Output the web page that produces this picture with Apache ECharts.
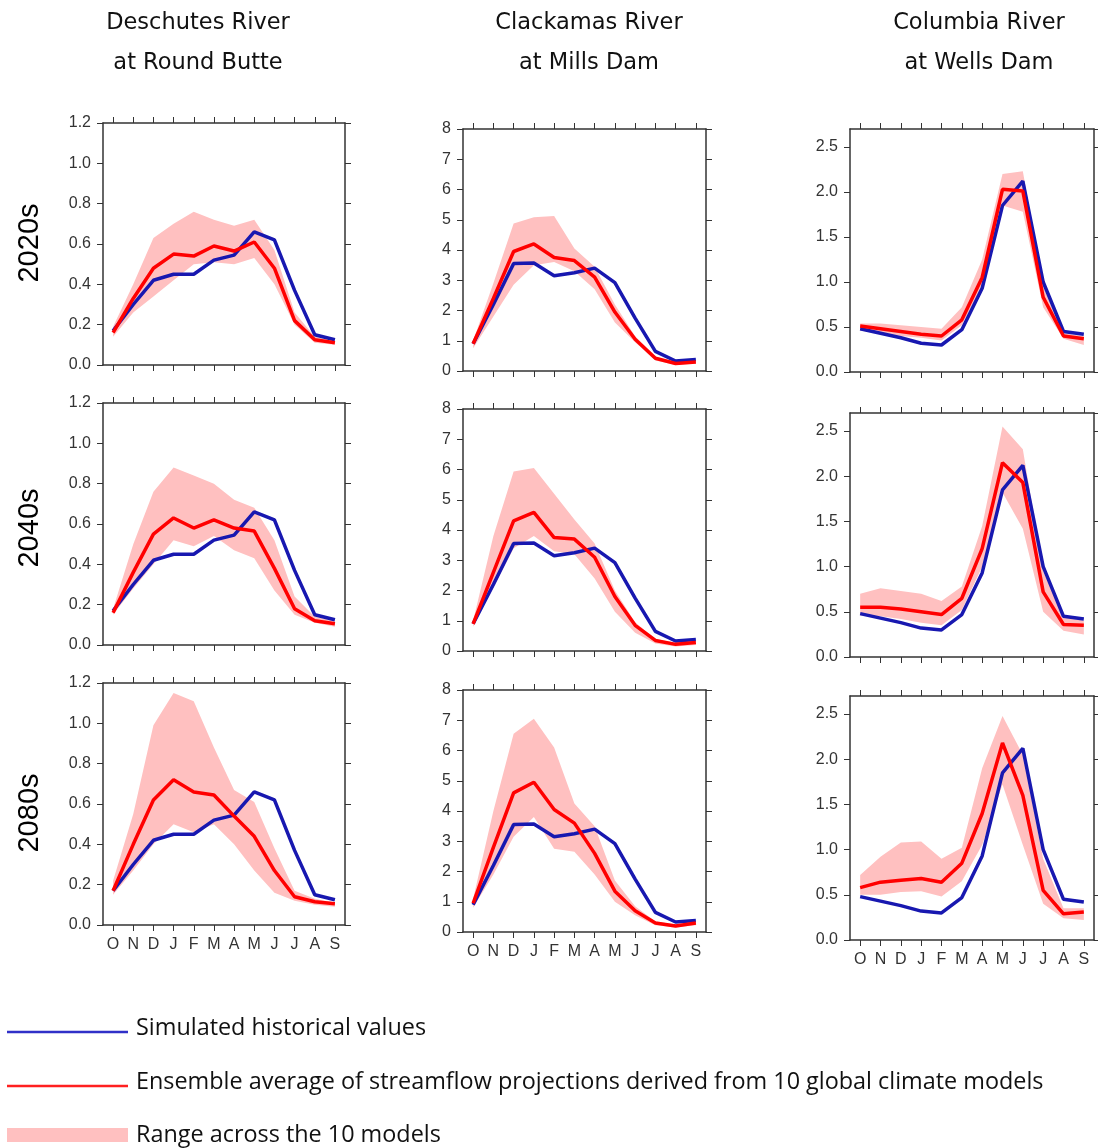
<!DOCTYPE html>
<html>
<head>
<meta charset="utf-8">
<title>Streamflow projections</title>
<script src="https://cdn.jsdelivr.net/npm/echarts@6.0.0/dist/echarts.min.js"></script>
<style>
  html, body { margin: 0; padding: 0; background: #fff; }
  #chart { width: 1098px; height: 1148px; }
</style>
</head>
<body>
<div id="chart"></div>
<script>
// months of the water year, Oct -> Sep
const months = ['O', 'N', 'D', 'J', 'F', 'M', 'A', 'M', 'J', 'J', 'A', 'S'];
const rivers = ['Deschutes River', 'Clackamas River', 'Columbia River'];
const sites = ['at Round Butte', 'at Mills Dam', 'at Wells Dam'];
const periods = ['2020s', '2040s', '2080s'];

// simulated historical values (same in every row)
const deschutesHist = [0.17, 0.30, 0.42, 0.45, 0.45, 0.52, 0.545, 0.66, 0.62, 0.37, 0.15, 0.125];
const clackamasHist = [0.9, 2.2, 3.55, 3.57, 3.15, 3.25, 3.4, 2.92, 1.75, 0.65, 0.33, 0.38];
const columbiaHist = [0.48, 0.43, 0.38, 0.32, 0.30, 0.47, 0.93, 1.85, 2.12, 1.0, 0.45, 0.42];

// Deschutes: ensemble mean, min, max
const deschutes2020Mean = [0.16, 0.33, 0.48, 0.55, 0.54, 0.59, 0.565, 0.61, 0.48, 0.22, 0.125, 0.11];
const deschutes2020Low = [0.14, 0.26, 0.34, 0.42, 0.50, 0.51, 0.50, 0.53, 0.40, 0.20, 0.11, 0.10];
const deschutes2020High = [0.19, 0.40, 0.63, 0.70, 0.76, 0.72, 0.69, 0.72, 0.57, 0.26, 0.14, 0.12];
const deschutes2040Mean = [0.16, 0.36, 0.55, 0.63, 0.58, 0.62, 0.58, 0.565, 0.38, 0.18, 0.12, 0.105];
const deschutes2040Low = [0.15, 0.28, 0.40, 0.52, 0.49, 0.54, 0.47, 0.43, 0.27, 0.15, 0.11, 0.09];
const deschutes2040High = [0.18, 0.50, 0.76, 0.88, 0.84, 0.80, 0.72, 0.68, 0.52, 0.24, 0.14, 0.12];
const deschutes2080Mean = [0.17, 0.40, 0.62, 0.72, 0.66, 0.645, 0.54, 0.44, 0.27, 0.14, 0.115, 0.105];
const deschutes2080Low = [0.15, 0.27, 0.40, 0.50, 0.46, 0.50, 0.40, 0.27, 0.16, 0.12, 0.10, 0.09];
const deschutes2080High = [0.22, 0.55, 0.99, 1.15, 1.11, 0.88, 0.67, 0.61, 0.38, 0.17, 0.13, 0.11];

// Clackamas
const clackamas2020Mean = [0.9, 2.4, 3.95, 4.2, 3.75, 3.65, 3.1, 1.95, 1.05, 0.42, 0.25, 0.3];
const clackamas2020Low = [0.75, 1.8, 2.85, 3.5, 3.6, 3.3, 2.7, 1.6, 0.95, 0.35, 0.2, 0.25];
const clackamas2020High = [1.0, 2.9, 4.88, 5.08, 5.12, 4.05, 3.45, 2.2, 1.15, 0.48, 0.3, 0.36];
const clackamas2040Mean = [0.9, 2.6, 4.3, 4.58, 3.75, 3.7, 3.1, 1.8, 0.85, 0.35, 0.22, 0.28];
const clackamas2040Low = [0.8, 2.1, 3.4, 3.8, 3.3, 3.2, 2.4, 1.3, 0.6, 0.25, 0.15, 0.2];
const clackamas2040High = [1.0, 3.8, 5.93, 6.05, 5.2, 4.35, 3.55, 2.0, 0.95, 0.4, 0.28, 0.33];
const clackamas2080Mean = [0.95, 2.8, 4.6, 4.95, 4.05, 3.6, 2.6, 1.35, 0.7, 0.3, 0.2, 0.3];
const clackamas2080Low = [0.8, 1.9, 3.15, 3.8, 2.75, 2.65, 1.9, 1.0, 0.55, 0.22, 0.15, 0.22];
const clackamas2080High = [1.1, 4.0, 6.55, 7.05, 6.1, 4.25, 3.5, 1.7, 0.85, 0.35, 0.25, 0.35];

// Columbia
const columbia2020Mean = [0.51, 0.48, 0.45, 0.42, 0.40, 0.58, 1.05, 2.03, 2.01, 0.83, 0.40, 0.37];
const columbia2020Low = [0.46, 0.43, 0.40, 0.38, 0.35, 0.52, 0.95, 1.85, 1.78, 0.72, 0.37, 0.30];
const columbia2020High = [0.54, 0.54, 0.52, 0.50, 0.48, 0.72, 1.25, 2.2, 2.23, 0.95, 0.43, 0.40];
const columbia2040Mean = [0.55, 0.55, 0.53, 0.50, 0.47, 0.65, 1.2, 2.15, 1.93, 0.72, 0.36, 0.35];
const columbia2040Low = [0.46, 0.45, 0.42, 0.38, 0.35, 0.52, 1.0, 1.82, 1.42, 0.5, 0.29, 0.25];
const columbia2040High = [0.70, 0.76, 0.73, 0.70, 0.62, 0.78, 1.45, 2.55, 2.3, 0.95, 0.45, 0.40];
const columbia2080Mean = [0.58, 0.64, 0.66, 0.68, 0.64, 0.85, 1.4, 2.18, 1.6, 0.55, 0.29, 0.31];
const columbia2080Low = [0.50, 0.50, 0.53, 0.54, 0.48, 0.65, 1.05, 1.72, 1.05, 0.40, 0.24, 0.22];
const columbia2080High = [0.72, 0.92, 1.08, 1.09, 0.90, 1.02, 1.9, 2.48, 2.05, 0.9, 0.35, 0.35];

// panels[row][col]
const panels = [
  [
    { hist: deschutesHist, mean: deschutes2020Mean, low: deschutes2020Low, high: deschutes2020High },
    { hist: clackamasHist, mean: clackamas2020Mean, low: clackamas2020Low, high: clackamas2020High },
    { hist: columbiaHist, mean: columbia2020Mean, low: columbia2020Low, high: columbia2020High }
  ],
  [
    { hist: deschutesHist, mean: deschutes2040Mean, low: deschutes2040Low, high: deschutes2040High },
    { hist: clackamasHist, mean: clackamas2040Mean, low: clackamas2040Low, high: clackamas2040High },
    { hist: columbiaHist, mean: columbia2040Mean, low: columbia2040Low, high: columbia2040High }
  ],
  [
    { hist: deschutesHist, mean: deschutes2080Mean, low: deschutes2080Low, high: deschutes2080High },
    { hist: clackamasHist, mean: clackamas2080Mean, low: clackamas2080Low, high: clackamas2080High },
    { hist: columbiaHist, mean: columbia2080Mean, low: columbia2080Low, high: columbia2080High }
  ]
];

// y axis per river
const yScales = [
  { max: 1.2, interval: 0.2, digits: 1 },
  { max: 8, interval: 1, digits: 0 },
  { max: 2.7, interval: 0.5, digits: 1 }
];

// panel boxes in pixels [left, top, width, height]
const boxes = [
  [[103, 123, 242, 242], [463, 129, 243, 242], [850, 129, 244, 243]],
  [[103, 403, 242, 242], [463, 409, 243, 242], [850, 413, 244, 244]],
  [[103, 683, 242, 242], [463, 690, 243, 242], [850, 696, 244, 244]]
];

const axisColor = '#333';
const blue = '#1818b0';
const red = '#ff0000';
const pink = '#ffc0c0';

var chart = echarts.init(document.getElementById('chart'));

var grids = [], xAxes = [], yAxes = [], series = [];

for (var r = 0; r < 3; r++) {
  for (var c = 0; c < 3; c++) {
    var g = grids.length;
    var b = boxes[r][c];
    var p = panels[r][c];
    var ys = yScales[c];
    grids.push({ left: b[0], top: b[1], width: b[2], height: b[3], containLabel: false });

    // bottom + top x axes
    ['bottom', 'top'].forEach(function (pos) {
      xAxes.push({
        type: 'category',
        gridIndex: g,
        position: pos,
        data: months,
        boundaryGap: true,
        axisLine: { show: true, onZero: false, lineStyle: { color: axisColor, width: 1.5 } },
        axisTick: { show: true, alignWithLabel: true, length: 6, inside: false, lineStyle: { color: axisColor, width: 1 } },
        axisLabel: {
          show: pos === 'bottom' && r === 2,
          interval: 0,
          margin: 12,
          color: '#333',
          fontSize: 16,
          fontFamily: 'Liberation Sans'
        },
        splitLine: { show: false }
      });
    });

    // left + right y axes
    ['left', 'right'].forEach(function (pos) {
      yAxes.push({
        type: 'value',
        gridIndex: g,
        position: pos,
        min: 0,
        max: ys.max,
        interval: ys.interval,
        axisLine: { show: true, onZero: false, lineStyle: { color: axisColor, width: 1.5 } },
        axisTick: { show: true, length: 6, inside: false, lineStyle: { color: axisColor, width: 1 } },
        axisLabel: {
          show: pos === 'left',
          margin: 12,
          color: '#333',
          fontSize: 16,
          fontFamily: 'Liberation Sans',
          showMaxLabel: ys.max === 2.7 ? false : true,
          formatter: (function (d) { return function (v) { return v.toFixed(d); }; })(ys.digits)
        },
        splitLine: { show: false }
      });
    });

    var xi = 2 * g, yi = 2 * g;
    var spread = p.high.map(function (v, i) { return +(v - p.low[i]).toFixed(3); });

    series.push({
      type: 'line', xAxisIndex: xi, yAxisIndex: yi,
      data: p.low, stack: 'band' + g, symbol: 'none', silent: true,
      lineStyle: { opacity: 0 }
    });
    series.push({
      type: 'line', xAxisIndex: xi, yAxisIndex: yi,
      data: spread, stack: 'band' + g, symbol: 'none', silent: true,
      lineStyle: { opacity: 0 },
      areaStyle: { color: pink, opacity: 1 }
    });
    series.push({
      type: 'line', xAxisIndex: xi, yAxisIndex: yi,
      data: p.hist, symbol: 'none', silent: true,
      lineStyle: { color: blue, width: 3.5 }
    });
    series.push({
      type: 'line', xAxisIndex: xi, yAxisIndex: yi,
      data: p.mean, symbol: 'none', silent: true,
      lineStyle: { color: red, width: 3.5 }
    });
  }
}

// column titles, row labels, legend
var titleCenters = [198, 589, 979];
var rowCenters = [243, 528, 813];
var legendRows = [
  { y: 1028, text: 'Simulated historical values' },
  { y: 1082, text: 'Ensemble average of streamflow projections derived from 10 global climate models' },
  { y: 1135, text: 'Range across the 10 models' }
];

var graphics = [];
rivers.forEach(function (name, i) {
  graphics.push({
    type: 'text', x: titleCenters[i], y: 23,
    style: { text: name, fill: '#111', font: '22.5px "DejaVu Sans"', textAlign: 'center', textVerticalAlign: 'middle' }
  });
  graphics.push({
    type: 'text', x: titleCenters[i], y: 63,
    style: { text: sites[i], fill: '#111', font: '22.5px "DejaVu Sans"', textAlign: 'center', textVerticalAlign: 'middle' }
  });
});
periods.forEach(function (name, i) {
  graphics.push({
    type: 'text', x: 30, y: rowCenters[i], rotation: Math.PI / 2,
    style: { text: name, fill: '#000', font: '29px "Liberation Sans"', textAlign: 'center', textVerticalAlign: 'middle' }
  });
});

graphics.push({ type: 'line', shape: { x1: 7, y1: 1032, x2: 128, y2: 1032 }, style: { stroke: '#3030c8', lineWidth: 2.5 } });
graphics.push({ type: 'line', shape: { x1: 7, y1: 1086, x2: 128, y2: 1086 }, style: { stroke: '#ff2020', lineWidth: 2.5 } });
graphics.push({ type: 'rect', shape: { x: 7, y: 1128, width: 121, height: 14 }, style: { fill: pink } });
legendRows.forEach(function (row) {
  graphics.push({
    type: 'text', x: 136, y: row.y,
    style: { text: row.text, fill: '#111', font: '23.4px "Open Sans"', textVerticalAlign: 'middle' }
  });
});

chart.setOption({
  animation: false,
  grid: grids,
  xAxis: xAxes,
  yAxis: yAxes,
  series: series,
  graphic: graphics
});
</script>
</body>
</html>
